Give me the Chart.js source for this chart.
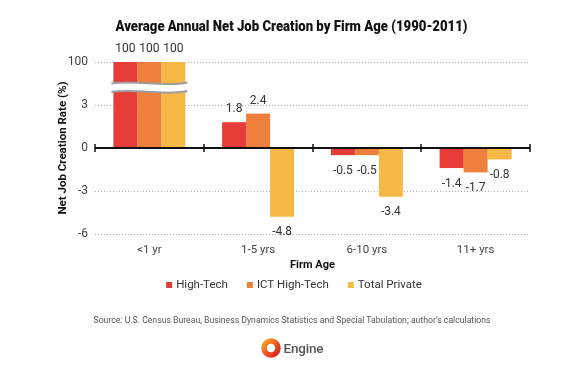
<!DOCTYPE html>
<html>
<head>
<meta charset="utf-8">
<script src="https://cdn.jsdelivr.net/npm/chart.js@4.4.1/dist/chart.umd.min.js"></script>
<style>
  html, body { margin: 0; padding: 0; background: #fff; }
  #wrap { position: relative; width: 584px; height: 374px; overflow: hidden; font-family: Roboto, "Liberation Sans", sans-serif; }
  #c { position: absolute; left: 0; top: 0; }
  .fit { position: absolute; left: 0; width: 584px; text-align: center; white-space: nowrap; }
  .fit span { display: inline-block; transform-origin: 50% 50%; }
  #title { top: 16px; font-weight: 900; font-size: 15px; line-height: 20px; color: #111; }
  #source { top: 314px; font-size: 9px; line-height: 12px; color: #555; }
  #logo { position: absolute; top: 338px; left: 0; width: 584px; display: flex; justify-content: center; align-items: center; height: 20px; }
  #logo .name { font-size: 13.5px; font-weight: 500; color: #555; margin-left: 3px; letter-spacing: -0.2px; }
</style>
</head>
<body>
<div id="wrap">
  <canvas id="c" width="584" height="374"></canvas>
  <div id="title" class="fit"><span data-w="352">Average Annual Net Job Creation by Firm Age (1990-2011)</span></div>
  <div id="source" class="fit"><span data-w="397">Source: U.S. Census Bureau, Business Dynamics Statistics and Special Tabulation; author’s calculations</span></div>
  <div id="logo">
    <svg width="20" height="20" viewBox="0 0 20 20">
      <defs>
        <linearGradient id="lg" x1="0" y1="0" x2="1" y2="1">
          <stop offset="0" stop-color="#f7a21b"/>
          <stop offset="0.5" stop-color="#ee5a24"/>
          <stop offset="1" stop-color="#d6231e"/>
        </linearGradient>
      </defs>
      <circle cx="10" cy="10" r="7" fill="none" stroke="url(#lg)" stroke-width="5.5"/>
    </svg>
    <span class="name">Engine</span>
  </div>
</div>
<script>
// ---- data ----
const categories = ['<1 yr', '1-5 yrs', '6-10 yrs', '11+ yrs'];
const seriesNames = ['High-Tech', 'ICT High-Tech', 'Total Private'];
const highTech = [100, 1.8, -0.5, -1.4];
const ictHighTech = [100, 2.4, -0.5, -1.7];
const totalPrivate = [100, -4.8, -3.4, -0.8];
const yTickValues = [-6, -3, 0, 3, 6];
const yTickLabels = ['-6', '-3', '0', '3', '100'];
const seriesColors = ['#e63b36', '#ee7f3c', '#f7b845'];

// broken axis: values above the top tick are drawn at the top tick position (labelled "100")
const AXIS_TOP = 6;
const toPlot = arr => arr.map(v => (v > AXIS_TOP ? AXIS_TOP : v));
const seriesValues = [highTech, ictHighTech, totalPrivate];

// fit html text widths
document.querySelectorAll('.fit span').forEach(s => {
  const target = +s.dataset.w;
  const w = s.getBoundingClientRect().width;
  s.style.transform = 'scaleX(' + (target / w) + ')';
});

const FONT = 'Roboto, "Liberation Sans", sans-serif';

const valueLabels = {
  id: 'valueLabels',
  afterDatasetsDraw(chart) {
    const ctx = chart.ctx;
    ctx.save();
    ctx.font = '12px ' + FONT;
    ctx.fillStyle = '#333';
    ctx.textAlign = 'center';
    ctx.textBaseline = 'middle';
    chart.data.datasets.forEach((ds, di) => {
      const meta = chart.getDatasetMeta(di);
      meta.data.forEach((bar, i) => {
        const v = ds.raw[i];
        const y = v >= 0 ? bar.y - 13 : bar.y + 15.5;
        ctx.fillText(String(v), bar.x, y);
      });
    });
    ctx.restore();
  }
};

const axisBreak = {
  id: 'axisBreak',
  afterDatasetsDraw(chart) {
    const ctx = chart.ctx;
    const ys = chart.scales.y;
    const n = chart.data.labels.length;
    for (let i = 0; i < n; i++) {
      const broken = chart.data.datasets.some(ds => ds.raw[i] > AXIS_TOP);
      if (!broken) continue;
      let l = Infinity, r = -Infinity;
      chart.data.datasets.forEach((ds, di) => {
        const b = chart.getDatasetMeta(di).data[i];
        l = Math.min(l, b.x - b.width / 2);
        r = Math.max(r, b.x + b.width / 2);
      });
      l -= 2; r += 2;
      const y1 = ys.getPixelForValue(4.5);
      const y2 = ys.getPixelForValue(3.9);
      const w = r - l;
      const wave = (y) => {
        ctx.moveTo(l, y);
        ctx.bezierCurveTo(l + w / 3, y - 4, l + 2 * w / 3, y + 4, r, y - 1);
      };
      ctx.save();
      ctx.beginPath();
      ctx.moveTo(l, y1);
      ctx.bezierCurveTo(l + w / 3, y1 - 4, l + 2 * w / 3, y1 + 4, r, y1 - 1);
      ctx.lineTo(r, y2 - 1);
      ctx.bezierCurveTo(l + 2 * w / 3, y2 + 4, l + w / 3, y2 - 4, l, y2);
      ctx.closePath();
      ctx.fillStyle = '#fff';
      ctx.fill();
      ctx.beginPath();
      wave(y1);
      wave(y2);
      ctx.strokeStyle = '#9c9c9c';
      ctx.lineWidth = 2;
      ctx.stroke();
      ctx.restore();
    }
  }
};

const zeroLine = {
  id: 'zeroLine',
  afterDatasetsDraw(chart) {
    const ctx = chart.ctx;
    const {left, right} = chart.chartArea;
    const y0 = chart.scales.y.getPixelForValue(0);
    const n = chart.data.labels.length;
    const cw = (right - left) / n;
    ctx.save();
    ctx.strokeStyle = '#111';
    ctx.lineWidth = 2;
    ctx.beginPath();
    ctx.moveTo(left, y0);
    ctx.lineTo(right, y0);
    ctx.stroke();
    ctx.lineWidth = 1.5;
    ctx.beginPath();
    for (let i = 0; i <= n; i++) {
      const x = Math.round(left + cw * i);
      ctx.moveTo(x, y0 - 4);
      ctx.lineTo(x, y0 + 4);
    }
    ctx.stroke();
    ctx.restore();
  }
};

const customLegend = {
  id: 'customLegend',
  afterDraw(chart) {
    const ctx = chart.ctx;
    ctx.save();
    ctx.font = '11.5px ' + FONT;
    ctx.textBaseline = 'middle';
    ctx.textAlign = 'left';
    const box = 6, gapBox = 4, gapItem = 19, cy = 285;
    const items = chart.data.datasets.map(ds => ({text: ds.label, color: ds.backgroundColor, w: ctx.measureText(ds.label).width}));
    const total = items.reduce((s, it) => s + box + gapBox + it.w, 0) + gapItem * (items.length - 1);
    let x = 294 - total / 2;
    items.forEach(it => {
      ctx.fillStyle = it.color;
      ctx.fillRect(x, cy - box / 2, box, box);
      ctx.fillStyle = '#333';
      ctx.fillText(it.text, x + box + gapBox, cy + 0.5);
      x += box + gapBox + it.w + gapItem;
    });
    ctx.restore();
  }
};

new Chart(document.getElementById('c'), {
  type: 'bar',
  data: {
    labels: categories,
    datasets: seriesValues.map((vals, k) => ({
      label: seriesNames[k],
      data: toPlot(vals),
      raw: vals,
      backgroundColor: seriesColors[k],
      borderWidth: 0,
      categoryPercentage: 0.662,
      barPercentage: 1.0
    }))
  },
  options: {
    responsive: false,
    animation: false,
    devicePixelRatio: 1,
    layout: { padding: { left: 54, right: 54, top: 62, bottom: 100 } },
    plugins: {
      legend: { display: false },
      title: { display: false },
      tooltip: { enabled: false }
    },
    scales: {
      x: {
        grid: { display: false, drawTicks: false },
        border: { display: false },
        ticks: { color: '#444', font: { family: FONT, size: 11.5 }, padding: 9 },
        title: { display: true, text: 'Firm Age', color: '#111', font: { family: FONT, size: 11, weight: 'bold' }, padding: { top: 0, bottom: 2 } },
        afterFit(scale) { scale.height = 40; }
      },
      y: {
        min: -6,
        max: 6,
        afterBuildTicks(scale) { scale.ticks = yTickValues.map(v => ({ value: v })); },
        ticks: {
          color: '#444',
          font: { family: FONT, size: 12 },
          padding: 7,
          callback: (v, i) => yTickLabels[yTickValues.indexOf(v)]
        },
        grid: {
          drawTicks: false,
          lineWidth: 1,
          color: c => (c.tick && c.tick.value === 0 ? 'rgba(0,0,0,0)' : '#b0b0b0')
        },
        border: { display: false, dash: [1, 2] },
        title: { display: true, text: 'Net Job Creation Rate (%)', color: '#111', font: { family: FONT, size: 11.5, weight: 'bold' }, padding: { top: 2, bottom: 0 } },
        afterFit(scale) { scale.width = 41; }
      }
    }
  },
  plugins: [valueLabels, axisBreak, zeroLine, customLegend]
});
</script>
</body>
</html>
